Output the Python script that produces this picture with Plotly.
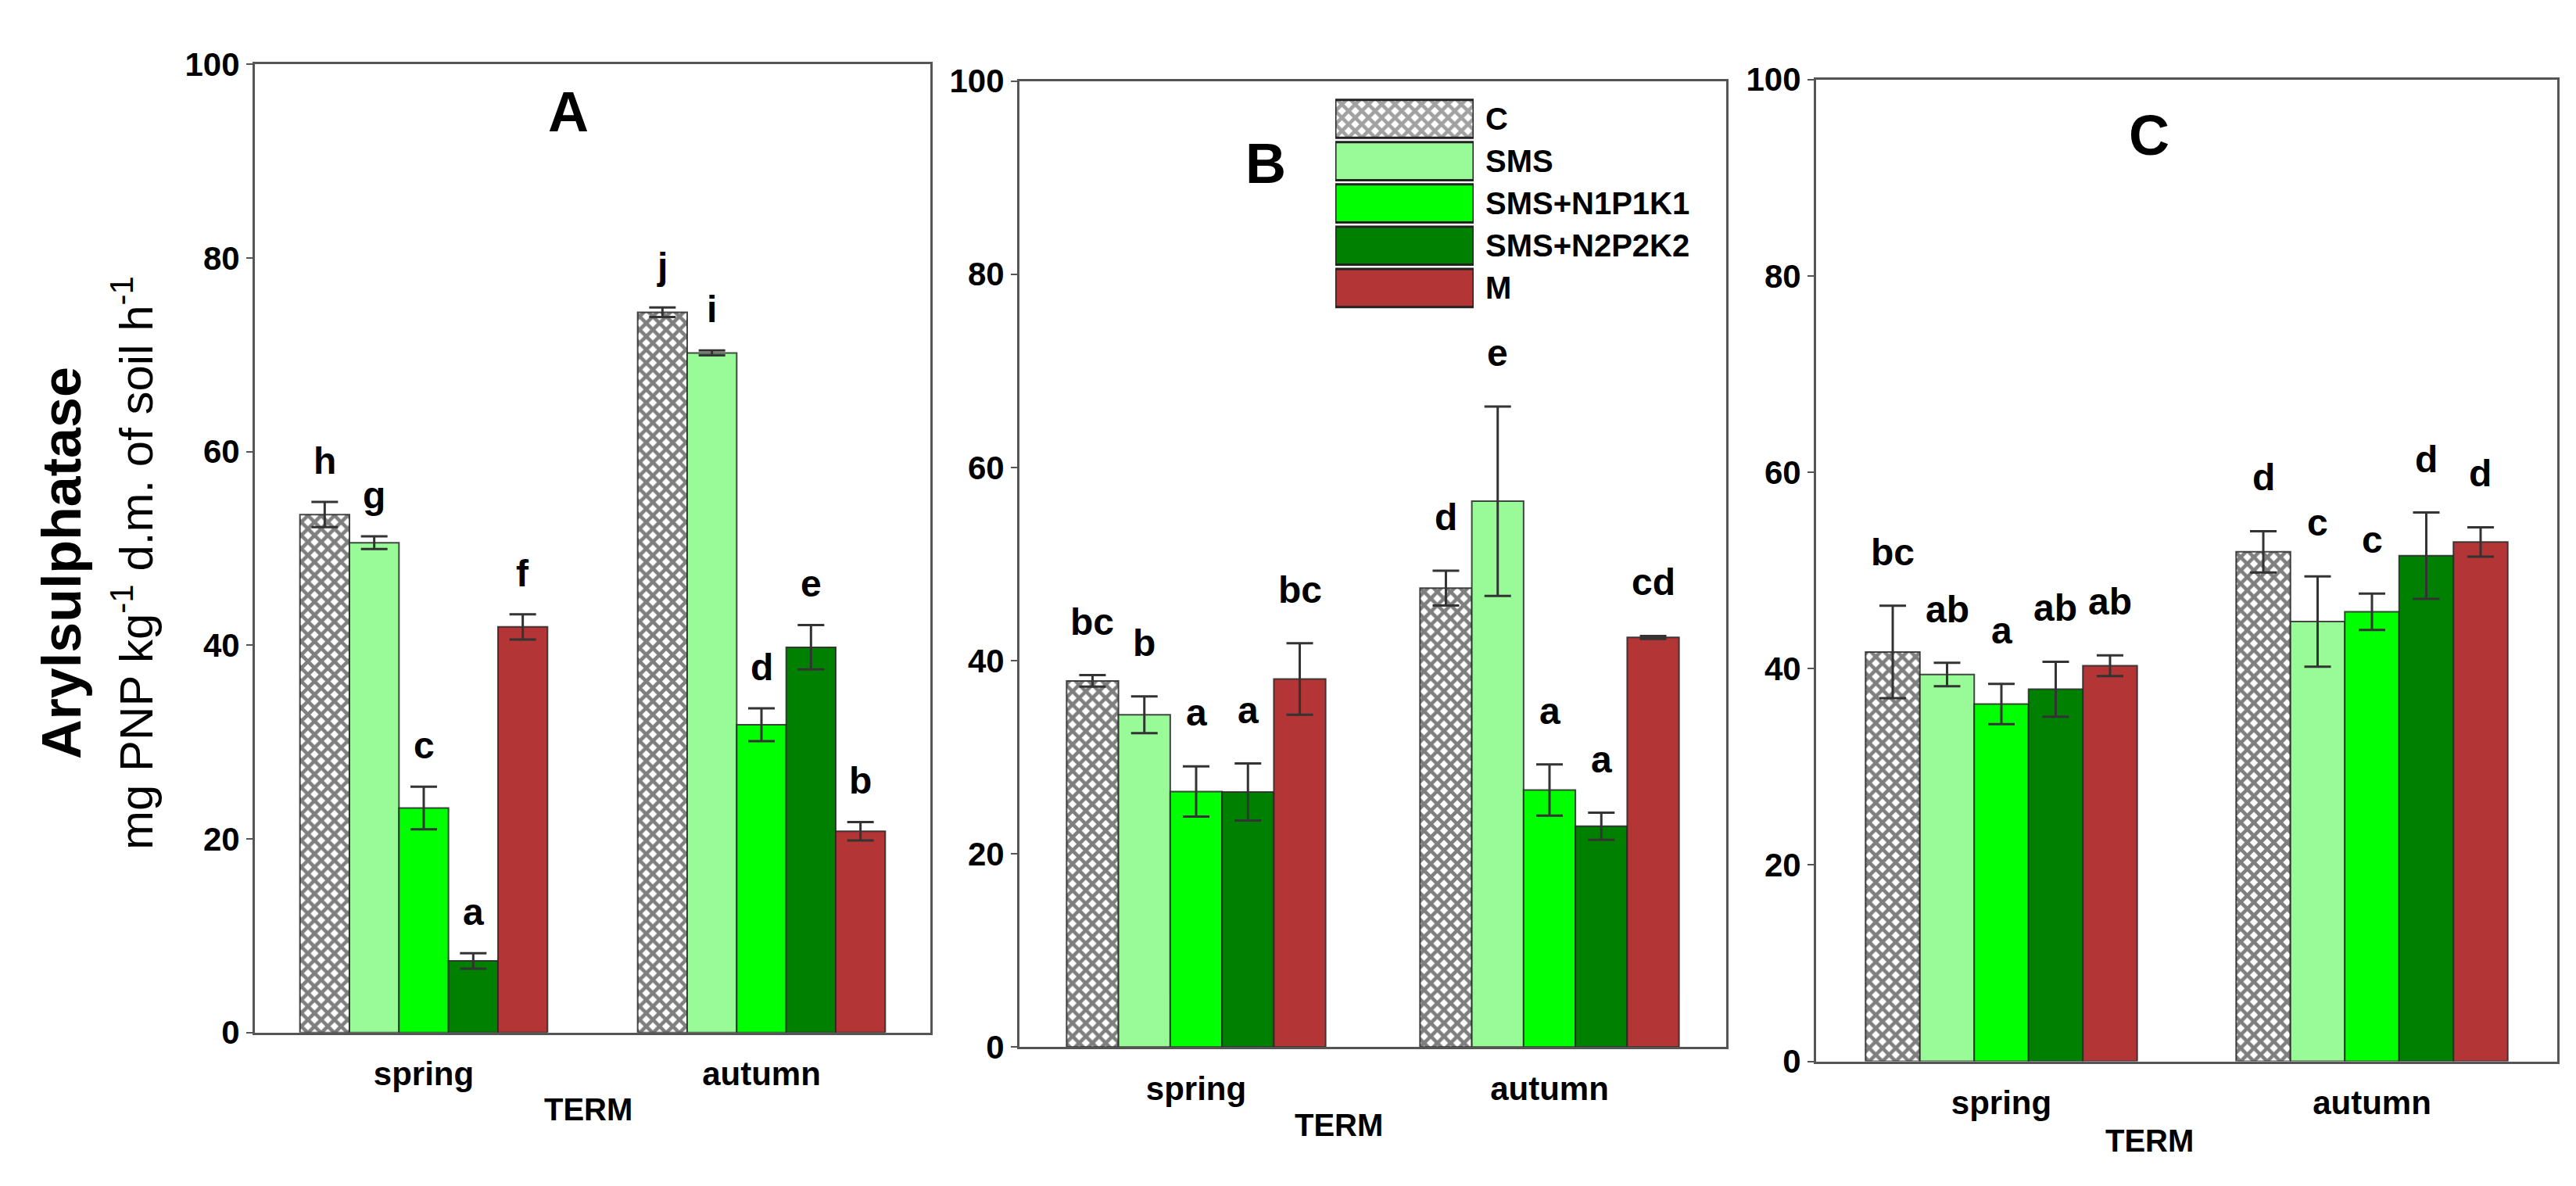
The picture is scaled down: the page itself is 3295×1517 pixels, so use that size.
import plotly.graph_objects as go

W, H = 3295, 1517

terms = ["spring", "autumn"]
treatments = ["C", "SMS", "SMS+N1P1K1", "SMS+N2P2K2", "M"]

# panel A  (rows = treatments, cols = terms)
a_mean = [[53.5, 74.4], [50.6, 70.2], [23.2, 31.8], [7.4, 39.8], [41.9, 20.8]]
a_err = [[1.3, 0.5], [0.65, 0.25], [2.2, 1.7], [0.8, 2.3], [1.3, 0.95]]
a_letters = [["h", "j"], ["g", "i"], ["c", "d"], ["a", "e"], ["f", "b"]]

# panel B
b_mean = [[37.9, 47.5], [34.4, 56.5], [26.45, 26.6], [26.4, 22.85], [38.1, 42.4]]
b_err = [[0.6, 1.8], [1.9, 9.8], [2.6, 2.65], [2.95, 1.4], [3.7, 0.15]]
b_letters = [["bc", "d"], ["b", "e"], ["a", "a"], ["a", "a"], ["bc", "cd"]]

# panel C
c_mean = [[41.7, 51.9], [39.4, 44.8], [36.4, 45.8], [37.9, 51.5], [40.3, 52.9]]
c_err = [[4.7, 2.1], [1.2, 4.6], [2.05, 1.85], [2.8, 4.4], [1.05, 1.5]]
c_letters = [["bc", "d"], ["ab", "c"], ["a", "c"], ["ab", "d"], ["ab", "d"]]

fills = ["white", "#98FB98", "#00FF00", "#008000", "#B33535"]
FONT = "Liberation Sans, Arial, sans-serif"
BARGAP = 0.267
HATCH = dict(fgcolor="#000000", bgcolor="white", size=12, solidity=0.62)


def px(x, y):
    return x / W, 1 - y / H


def label(x, y, text, size, angle=0, shift=0):
    return dict(x=x, y=y, xref="paper", yref="paper", text=text, showarrow=False,
                xanchor="center", yanchor="middle", textangle=angle, yshift=shift,
                font=dict(size=size, color="black", family=FONT))


panels = [
    dict(name="A", mean=a_mean, err=a_err, letters=a_letters, ax="", box=(318, 53, 1182, 1331),
         title_xy=(719, 124), term_xy=(744, 1432), lshift=24),
    dict(name="B", mean=b_mean, err=b_err, letters=b_letters, ax="2", box=(1296, 75, 2200, 1350),
         title_xy=(1611, 192), term_xy=(1704, 1453), lshift=40),
    dict(name="C", mean=c_mean, err=c_err, letters=c_letters, ax="3", box=(2315, 73, 3263, 1369),
         title_xy=(2741, 155), term_xy=(2741, 1474), lshift=40),
]

fig = go.Figure()
annotations = []
layout = {}

bar_w = (1 - BARGAP) / len(treatments)

for p in panels:
    xa, ya = "x" + p["ax"], "y" + p["ax"]
    for i, t in enumerate(treatments):
        pattern = dict(shape="x", **HATCH) if i == 0 else dict(shape="")
        fig.add_trace(go.Bar(
            x=terms, y=p["mean"][i], name=t, xaxis=xa, yaxis=ya, showlegend=False,
            marker=dict(color=fills[i], pattern=pattern, line=dict(color="rgba(40,40,40,0.85)", width=2)),
            error_y=dict(type="data", array=p["err"][i], color="#333333", thickness=3, width=17),
        ))
        off = -(1 - BARGAP) / 2 + (i + 0.5) * bar_w
        for j in range(len(terms)):
            annotations.append(dict(
                x=j + off, y=p["mean"][i][j] + p["err"][i][j], xref=xa, yref=ya,
                text="<b>%s</b>" % p["letters"][i][j], showarrow=False,
                xanchor="center", yanchor="bottom", yshift=p["lshift"],
                font=dict(size=48, color="black", family=FONT)))

    x0, y0, x1, y1 = p["box"]
    xd0, yd1 = px(x0, y0)
    xd1, yd0 = px(x1, y1)
    key = p["ax"]
    layout["xaxis" + key] = dict(
        domain=[xd0, xd1], anchor=ya, showline=True, mirror=True, linecolor="#555555", linewidth=3,
        ticks="", showgrid=False, zeroline=False, ticklabelstandoff=14,
        tickfont=dict(size=42, family=FONT, color="black", weight="bold"))
    layout["yaxis" + key] = dict(
        domain=[yd0, yd1], anchor=xa, range=[0, 100], dtick=20, showline=True, mirror=True,
        linecolor="#555555", linewidth=3, ticks="outside", ticklen=8, tickwidth=2, tickcolor="#555555",
        showgrid=False, zeroline=False,
        tickfont=dict(size=42, family=FONT, color="black", weight="bold"))

    annotations.append(label(*px(*p["title_xy"]), "<b>%s</b>" % p["name"], 72, shift=8))
    annotations.append(label(*px(*p["term_xy"]), "<b>TERM</b>", 40))

# legend drawn as a small bar chart inside panel B
fig.add_trace(go.Bar(
    x=[1] * len(treatments), y=treatments, orientation="h", xaxis="x4", yaxis="y4", width=0.9,
    showlegend=False,
    marker=dict(color=fills, line=dict(color="#222222", width=3),
                pattern=dict(shape=["x", "", "", "", ""], **HATCH)),
))
lx0, ly1 = px(1700, 97)
lx1, ly0 = px(1877, 376)
layout["xaxis4"] = dict(domain=[lx0, lx1], anchor="y4", range=[0, 1], visible=False)
layout["yaxis4"] = dict(domain=[ly0, ly1], anchor="x4", side="right", autorange="reversed",
                        showline=False, ticks="", showgrid=False, zeroline=False, ticklabelstandoff=14,
                        tickfont=dict(size=40, family=FONT, color="black", weight="bold"))

# y axis title (two lines)
annotations.append(label(*px(71, 711), "<b>Arylsulphatase</b>", 70, -90))
annotations.append(label(*px(162, 711), "mg PNP kg<sup>-1</sup> d.m. of soil h<sup>-1</sup>", 60, -90))

fig.update_layout(
    width=W, height=H, margin=dict(l=0, r=0, t=0, b=0),
    paper_bgcolor="white", plot_bgcolor="white",
    barmode="group", bargap=BARGAP, bargroupgap=0,
    annotations=annotations, **layout)

fig.write_html("out.html")
